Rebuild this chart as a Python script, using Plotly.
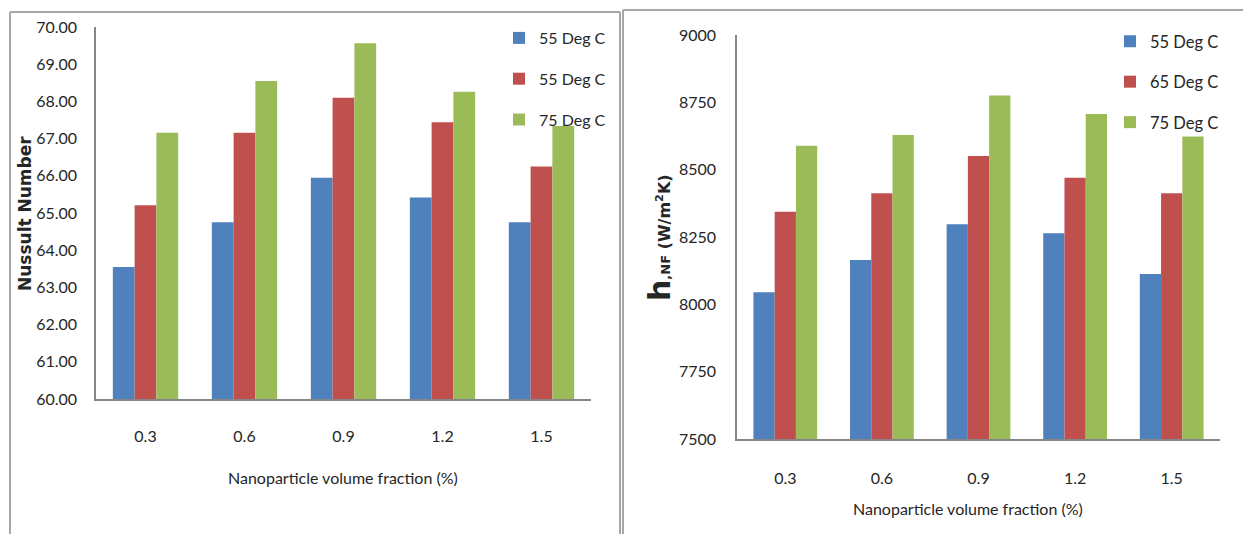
import plotly.graph_objects as go

# Nanoparticle volume fractions (%)
fractions = ["0.3", "0.6", "0.9", "1.2", "1.5"]

# Nusselt number per temperature
nu_labels = ["55 Deg C", "55 Deg C", "75 Deg C"]
nu_55 = [63.55, 64.75, 65.95, 65.42, 64.75]
nu_65 = [65.21, 67.16, 68.10, 67.44, 66.25]
nu_75 = [67.16, 68.55, 69.56, 68.26, 67.34]

# Heat transfer coefficient h,NF (W/m2K) per temperature
h_labels = ["55 Deg C", "65 Deg C", "75 Deg C"]
h_55 = [8045, 8165, 8297, 8264, 8113]
h_65 = [8344, 8412, 8551, 8470, 8412]
h_75 = [8589, 8629, 8775, 8707, 8623]

colors = ["#4F81BD", "#C0504D", "#9BBB59"]

W, H = 1243, 534
FONT = "Lato"
TXT = "#262626"


def px_x(v):
    return v / W


def px_y(v):
    return 1 - v / H


fig = go.Figure()

for i, (name, vals) in enumerate(zip(nu_labels, [nu_55, nu_65, nu_75])):
    fig.add_trace(go.Bar(
        x=fractions, y=vals, name=name, marker_color=colors[i],
        xaxis="x", yaxis="y", legend="legend", legendgroup=f"nu{i}",
        marker_line_width=0,
    ))

for i, (name, vals) in enumerate(zip(h_labels, [h_55, h_65, h_75])):
    fig.add_trace(go.Bar(
        x=fractions, y=vals, name=name, marker_color=colors[i],
        xaxis="x2", yaxis="y2", legend="legend2", legendgroup=f"h{i}",
        marker_line_width=0,
    ))

axis_line = "#868686"
tick_font = dict(family=FONT, size=16, color=TXT)
common_axis = dict(
    showline=True, linecolor=axis_line, linewidth=1.5, showgrid=False,
    ticks="", tickfont=tick_font, automargin=False, fixedrange=True,
)

fig.update_layout(
    width=W, height=H,
    margin=dict(l=0, r=0, t=0, b=0, autoexpand=False),
    paper_bgcolor="white", plot_bgcolor="white",
    barmode="group", bargap=0.34, bargroupgap=0,
    font=dict(family=FONT, color=TXT),
    xaxis=dict(
        domain=[px_x(96), px_x(591)], anchor="y", type="category",
        ticklabelstandoff=22, **common_axis,
    ),
    yaxis=dict(
        domain=[px_y(399), px_y(27)], anchor="x", range=[60, 70], dtick=1,
        tickformat=".2f", zeroline=False, ticklabelstandoff=14, **common_axis,
    ),
    xaxis2=dict(
        domain=[px_x(737), px_x(1220)], anchor="y2", type="category",
        ticklabelstandoff=24, **common_axis,
    ),
    yaxis2=dict(
        domain=[px_y(439), px_y(35)], anchor="x2", range=[7500, 9000],
        dtick=250, zeroline=False, ticklabelstandoff=16, **common_axis,
    ),
    legend=dict(
        x=px_x(499), y=px_y(21), xanchor="left", yanchor="top",
        font=dict(family=FONT, size=16, color=TXT), bgcolor="rgba(0,0,0,0)",
        tracegroupgap=17, traceorder="grouped", itemwidth=30,
    ),
    legend2=dict(
        x=px_x(1110), y=px_y(24), xanchor="left", yanchor="top",
        font=dict(family=FONT, size=16.5, color=TXT), bgcolor="rgba(0,0,0,0)",
        tracegroupgap=16, traceorder="grouped", itemwidth=30,
    ),
)

# Axis titles
title_font = dict(family=FONT, size=16, color=TXT)
fig.add_annotation(
    text="Nanoparticle volume fraction (%)", x=px_x(343), y=px_y(477),
    xref="paper", yref="paper", showarrow=False, xanchor="center",
    yanchor="middle", font=title_font,
)
fig.add_annotation(
    text="Nanoparticle volume fraction (%)", x=px_x(968), y=px_y(508),
    xref="paper", yref="paper", showarrow=False, xanchor="center",
    yanchor="middle", font=title_font,
)
fig.add_annotation(
    text="<b>Nussult Number</b>", x=px_x(25), y=px_y(214),
    xref="paper", yref="paper", showarrow=False, textangle=-90,
    xanchor="center", yanchor="middle",
    font=dict(family="DejaVu Sans", size=17, color=TXT),
)
fig.add_annotation(
    text=("<b><span style='font-size:30px'>h</span>"
          "<span style='font-size:13px'>,NF</span> (W/m<sup>2</sup>K)</b>"),
    x=px_x(659), y=px_y(238),
    xref="paper", yref="paper", showarrow=False, textangle=-90,
    xanchor="center", yanchor="middle",
    font=dict(family="DejaVu Sans", size=16, color=TXT),
)

# Panel frames
frame = dict(color="#A6A6A6", width=2)
for x0, y0, x1, y1 in [
    (10, 12, 10, H), (10, 12, 620, 12), (620, 12, 620, H),
    (623, 10, 623, H), (623, 10, W, 10),
]:
    fig.add_shape(
        type="line", xref="paper", yref="paper",
        x0=px_x(x0), y0=px_y(y0), x1=px_x(x1), y1=px_y(y1), line=frame,
    )

fig.write_html("out.html")
